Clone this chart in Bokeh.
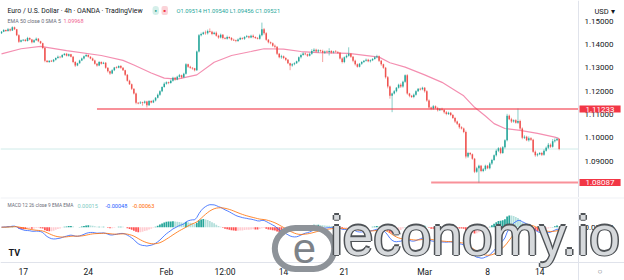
import numpy as np
from bokeh.plotting import figure
from bokeh.layouts import column
from bokeh.models import Range1d, FixedTicker, Label, NumeralTickFormatter, LinearAxis
from bokeh.embed import file_html
from bokeh.resources import INLINE

# ---------------- data ----------------
first_open = 1.1448
closes = [
1.1455, 1.1462, 1.1458, 1.1466, 1.1460, 1.1474, 1.1465, 1.1440, 1.1412, 1.1418,
1.1420, 1.1415, 1.1428, 1.1422, 1.1410, 1.1418, 1.1425, 1.1414, 1.1405, 1.1385,
1.1330, 1.1325, 1.1330, 1.1327, 1.1335, 1.1342, 1.1348, 1.1345, 1.1355, 1.1360,
1.1352, 1.1358, 1.1348, 1.1325, 1.1310, 1.1320, 1.1332, 1.1340, 1.1350, 1.1355,
1.1348, 1.1340, 1.1332, 1.1318, 1.1310, 1.1325, 1.1318, 1.1322, 1.1300, 1.1285,
1.1276, 1.1290, 1.1302, 1.1300, 1.1308, 1.1300, 1.1290, 1.1270, 1.1245, 1.1230,
1.1210, 1.1190, 1.1150, 1.1148, 1.1152, 1.1150, 1.1156, 1.1140, 1.1158, 1.1152,
1.1160, 1.1172, 1.1185, 1.1200, 1.1218, 1.1232, 1.1238, 1.1235, 1.1245, 1.1258,
1.1250, 1.1262, 1.1268, 1.1260, 1.1275, 1.1315, 1.1305, 1.1300, 1.1298, 1.1290,
1.1370, 1.1440, 1.1445, 1.1452, 1.1448, 1.1458, 1.1455, 1.1445, 1.1450, 1.1438,
1.1430, 1.1442, 1.1428, 1.1425, 1.1432, 1.1428, 1.1420, 1.1418, 1.1415, 1.1422,
1.1428, 1.1425, 1.1432, 1.1435, 1.1430, 1.1438, 1.1432, 1.1428, 1.1425, 1.1440,
1.1465, 1.1448, 1.1420, 1.1410, 1.1405, 1.1395, 1.1390, 1.1360, 1.1345, 1.1350,
1.1342, 1.1335, 1.1320, 1.1310, 1.1315, 1.1320, 1.1328, 1.1345, 1.1355, 1.1362,
1.1358, 1.1352, 1.1360, 1.1372, 1.1378, 1.1370, 1.1375, 1.1372, 1.1365, 1.1370,
1.1368, 1.1372, 1.1366, 1.1370, 1.1368, 1.1365, 1.1340, 1.1325, 1.1345, 1.1352,
1.1360, 1.1348, 1.1330, 1.1315, 1.1305, 1.1318, 1.1325, 1.1330, 1.1335, 1.1328,
1.1333, 1.1338, 1.1345, 1.1350, 1.1330, 1.1315, 1.1300, 1.1260, 1.1220, 1.1180,
1.1190, 1.1200, 1.1215, 1.1228, 1.1220, 1.1240, 1.1268, 1.1190, 1.1180, 1.1175,
1.1185, 1.1200, 1.1210, 1.1208, 1.1215, 1.1200, 1.1160, 1.1130, 1.1125, 1.1135,
1.1128, 1.1118, 1.1125, 1.1120, 1.1110, 1.1102, 1.1108, 1.1098, 1.1085, 1.1070,
1.1060, 1.1045, 1.1040, 1.1025, 1.0920, 1.0935, 1.0930, 1.0910, 1.0855, 1.0870,
1.0880, 1.0858, 1.0865, 1.0880, 1.0870, 1.0890, 1.0905, 1.0925, 1.0945, 1.0955,
1.0935, 1.0960, 1.0990, 1.1095, 1.1080, 1.1070, 1.1075, 1.1065, 1.1072, 1.1040,
1.1000, 1.1005, 1.0990, 1.0998, 1.0992, 1.0940, 1.0925, 1.0930, 1.0935, 1.0928,
1.0945, 1.0958, 1.0970, 1.0962, 1.0985, 1.0990, 1.0995, 1.0952]

# upper / lower wick lengths in pips
wick_up = [
3,4,2,5,3,4,3,2,4,3, 3,4,5,3,2,4,5,3,2,3, 4,3,2,4,3,3,5,2,4,3, 4,3,2,3,4,2,3,4,3,5,
3,2,4,3,2,4,3,4,3,2, 3,4,2,5,3,4,3,2,3,4, 3,2,4,3,5,3,4,3,4,3, 4,3,5,4,3,6,4,3,5,4,
3,4,6,3,4,5,3,4,3,2, 4,5,6,3,8,6,11,4,5,6, 4,5,3,4,6,3,4,5,3,4, 5,3,4,6,3,4,5,3,4,6,
29,6,5,4,3,4,5,3,4,6, 3,4,3,2,5,4,3,4,6,5, 4,3,5,8,6,4,5,3,6,4, 5,12,4,3,6,4,3,5,4,6,
28,4,3,5,4,3,4,3,5,4, 3,4,5,6,3,4,3,4,5,4, 4,5,3,4,6,5,4,5,3,4, 5,4,3,5,4,3,4,5,4,6,
4,5,3,4,3,5,4,3,4,5, 4,3,5,4,6,5,4,3,4,6, 5,4,6,5,4,6,5,4,6,5, 6,5,4,8,5,6,4,5,54,6,
5,6,4,8,5,4,6,5,4,5, 6,5,8,6,10,8,6,3]
wick_dn = [
3,2,4,3,4,2,3,4,5,3, 4,3,2,4,5,3,2,4,3,5, 6,3,4,2,3,4,3,4,2,3, 3,4,3,5,6,3,2,3,4,3,
4,3,3,4,5,3,4,2,4,5, 6,3,4,3,2,4,3,5,4,3, 5,4,6,4,3,12,4,10,3,4, 3,4,3,5,4,3,4,5,3,4,
5,3,4,6,3,4,5,4,6,5, 3,4,5,4,6,5,4,5,3,4, 5,4,6,3,4,5,4,3,5,4, 3,4,5,3,4,3,5,4,3,4,
5,6,4,5,4,5,6,5,4,6, 5,6,4,20,5,4,3,4,5,3, 4,5,3,4,5,4,6,5,40,5, 4,15,5,4,3,5,4,6,5,4,
4,5,6,5,4,3,5,4,3,4, 5,4,3,4,5,6,4,6,8,12, 70,4,5,4,6,5,4,5,6,4, 5,4,3,5,4,6,5,4,6,5,
4,5,3,4,6,5,4,5,4,6, 5,6,4,5,8,6,5,4,6,5, 62,5,5,6,4,5,6,4,5,6, 5,4,6,5,4,6,5,4,5,6,
6,5,4,6,5,4,6,5,4,6, 5,4,6,5,4,5,4,5]

# EMA 50 (candle index, value)
ema_idx = [0, 9, 18, 30, 46, 56, 61, 69, 75, 81, 90, 98, 106, 115, 121, 130, 138, 146,
           160, 174, 179, 186, 195, 203, 210, 213, 218, 223, 227, 232, 239, 247, 255, 257]
ema_val = [1.1360, 1.1382, 1.1392, 1.1374, 1.1353, 1.1332, 1.1312, 1.1278, 1.1256, 1.1252,
           1.1270, 1.1324, 1.1353, 1.1370, 1.1382, 1.1380, 1.1370, 1.1365, 1.1362, 1.1346,
           1.1322, 1.1303, 1.1270, 1.1238, 1.1198, 1.1180, 1.1131, 1.1094, 1.1061, 1.1040,
           1.1032, 1.1019, 1.1003, 1.0997]

resistance = 1.11233
resistance_start = 44
support = 1.08087
support_start = 198
last_price = 1.09521

price_ticks = [1.09, 1.10, 1.11, 1.12, 1.13, 1.14, 1.15]
time_tick_idx = [10, 40, 76, 103, 130, 158, 195, 224, 248]
time_tick_lbl = ["17", "24", "Feb", "12:00", "14", "21", "Mar", "8", "14"]

assert len(closes) == 258 and len(wick_up) == 258 and len(wick_dn) == 258

# ---------------- derived ----------------
c = np.array(closes)
o = np.array([first_open] + closes[:-1])
n = len(c)
idx = np.arange(n)
top = np.maximum(o, c)
bot = np.minimum(o, c)
hi = top + np.array(wick_up) * 1e-4
lo = bot - np.array(wick_dn) * 1e-4
thin = (top - bot) < 0.0003
top_d = np.where(thin, (top + bot) / 2 + 0.00015, top)
bot_d = np.where(thin, (top + bot) / 2 - 0.00015, bot)
GREEN, RED = "#26a69a", "#ef5350"
col = [GREEN if cc >= oo else RED for cc, oo in zip(c, o)]

def ema(a, k):
    al = 2.0 / (k + 1)
    out = np.empty_like(a)
    out[0] = a[0]
    for i in range(1, len(a)):
        out[i] = out[i - 1] + al * (a[i] - out[i - 1])
    return out

macd = ema(c, 12) - ema(c, 26)
sig = ema(macd, 9)
hist = macd - sig
hcol = []
for i, h in enumerate(hist):
    prev = hist[i - 1] if i > 0 else h
    if h >= 0:
        hcol.append("#26a69a" if h >= prev else "#b2dfdb")
    else:
        hcol.append("#ff5252" if h < prev else "#ffcdd2")

FONT = "Roboto"
TXT = "#131722"
GRAYTXT = "#6a6d78"
SEP = "#e0e3eb"

# x scale: 2.17 px per candle; price scale column starts at candle-space 265.9
X0, XAXIS, XEND = -0.46, 265.9, 287.1
xr = Range1d(X0, XEND)

def style_axis(ax, size="8px", standoff=6):
    ax.major_tick_line_color = None
    ax.minor_tick_line_color = None
    ax.major_tick_out = 0
    ax.major_tick_in = 0
    ax.minor_tick_out = 0
    ax.minor_tick_in = 0
    ax.axis_line_color = SEP
    ax.major_label_text_font_size = size
    ax.major_label_text_font = FONT
    ax.major_label_text_color = TXT
    ax.major_label_standoff = standoff

# ---------------- price panel ----------------
p = figure(width=624, height=197, x_range=xr, y_range=Range1d(1.07444, 1.15887),
           output_backend="svg", toolbar_location=None, x_axis_location=None,
           y_axis_location=None, min_border=0, outline_line_color=None)
p.xgrid.visible = False
p.ygrid.visible = False
ya = LinearAxis(fixed_location=XAXIS, ticker=FixedTicker(ticks=price_ticks),
                formatter=NumeralTickFormatter(format="0.00000"))
style_axis(ya)
p.add_layout(ya, "right")

p.segment(x0=[X0], y0=[last_price], x1=[XAXIS], y1=[last_price],
          line_color="#26a69a", line_alpha=0.22, line_width=1)
p.line(ema_idx, ema_val, line_color="#f48fb1", line_width=1.2)
p.segment(idx, hi, idx, lo, line_color=col, line_alpha=0.55, line_width=1)
p.vbar(x=idx, width=0.7, top=top_d, bottom=bot_d, fill_color=col, line_color=None)
p.segment(x0=[resistance_start, support_start], y0=[resistance, support],
          x1=[XAXIS, XAXIS], y1=[resistance, support],
          line_color="#f23645", line_alpha=0.55, line_width=2)

for lvl in (resistance, support):
    p.add_layout(Label(x=579, x_units="screen", y=lvl, text=f"{lvl:.5f}",
                       text_color="white", text_font=FONT, text_font_size="8px",
                       text_baseline="middle", background_fill_color="#f23645",
                       padding=dict(left=6, right=6, top=1, bottom=1)))

H = 197
def plab(x, y_page, text, color, size, **kw):
    p.add_layout(Label(x=x, y=H - y_page, x_units="screen", y_units="screen", text=text,
                       text_font=FONT, text_font_size=size, text_color=color,
                       text_baseline="middle", **kw))

plab(7, 10, "Euro / U.S. Dollar · 4h · OANDA · TradingView", TXT, "6.85px")
plab(152, 10, "●", "#089981", "4px", background_fill_color="#d5efea", padding=2, border_radius=5)
plab(161, 10, "■", "#f23645", "4px", background_fill_color="#fbd3d8", padding=2, border_radius=2)
plab(176, 10, "O1.09514 H1.09540 L1.09456 C1.09521", "#26a69a", "5.8px")
plab(7, 20, "EMA 50 close 0 SMA 5", GRAYTXT, "5.3px")
plab(63, 20, "1.09968", "#f06292", "5.5px")
plab(594, 11, "USD ▾", TXT, "7.5px")

# ---------------- MACD panel ----------------
peak = max(macd.max(), sig.max())
u = peak / 22.5
m = figure(width=624, height=83, x_range=xr, y_range=Range1d(-53.3 * u, 28.7 * u),
           output_backend="svg", toolbar_location=None, x_axis_location=None,
           y_axis_location=None, min_border_left=0, min_border_right=0,
           min_border_top=1, min_border_bottom=0, outline_line_color=None,
           border_fill_color=SEP)
m.xgrid.visible = False
m.ygrid.visible = False
my = LinearAxis(fixed_location=XAXIS, ticker=FixedTicker(ticks=[0]),
                formatter=NumeralTickFormatter(format="0.00000"))
style_axis(my)
m.add_layout(my, "right")
mx = LinearAxis(fixed_location=-35.3 * u, ticker=FixedTicker(ticks=time_tick_idx))
mx.major_label_overrides = {t: l for t, l in zip(time_tick_idx, time_tick_lbl)}
style_axis(mx, size="8.5px", standoff=4)
m.add_layout(mx, "below")

m.vbar(x=idx, width=0.8, top=np.maximum(hist, 0), bottom=np.minimum(hist, 0),
       fill_color=hcol, line_color=None)
m.line(idx, macd, line_color="#2962ff", line_width=1, line_alpha=0.8)
m.line(idx, sig, line_color="#ff6d00", line_width=1, line_alpha=0.8)

MB = 280  # page y of MACD frame bottom
def mlab(x, y_page, text, color, size="5.6px", **kw):
    m.add_layout(Label(x=x, y=MB - y_page, x_units="screen", y_units="screen", text=text,
                       text_font=kw.pop("font", FONT), text_font_size=size,
                       text_color=color, text_baseline=kw.pop("baseline", "middle"), **kw))

mlab(7, 205, "MACD 12 26 close 9 EMA EMA", GRAYTXT, size="4.8px")
mlab(77, 205, "0.00015", "#80cbc4")
mlab(105, 205, "-0.00048", "#2962ff")
mlab(132, 205, "-0.00063", "#ff6d00")
mlab(8, 252, "TV", TXT, size="9px", text_font_style="bold")
mlab(597, 271, "○", GRAYTXT, size="8px")

# watermark
m.add_layout(Label(x=304, y=MB - 248, x_units="screen", y_units="screen", text="e",
                   text_font="Liberation Sans", text_font_size="42px", text_color="#7d8288",
                   text_align="center", text_baseline="middle",
                   border_line_color="#8e9399", border_line_width=6, border_radius=32,
                   padding=dict(left=18, right=18, top=6, bottom=6)))
for dx, dy in [(-1.5, 0), (1.5, 0), (0, -1.5), (0, 1.5)]:
    m.add_layout(Label(x=330 + dx, y=MB - 266 + dy, x_units="screen", y_units="screen",
                       text="ieconomy.io", text_font="Liberation Sans",
                       text_font_size="55px", text_color="#4f5357"))
m.add_layout(Label(x=330, y=MB - 266, x_units="screen", y_units="screen",
                   text="ieconomy.io", text_font="Liberation Sans",
                   text_font_size="55px", text_color="#d6d9dc"))

layout = column(p, m, spacing=0)
open("out.html", "w").write(file_html(layout, INLINE))
